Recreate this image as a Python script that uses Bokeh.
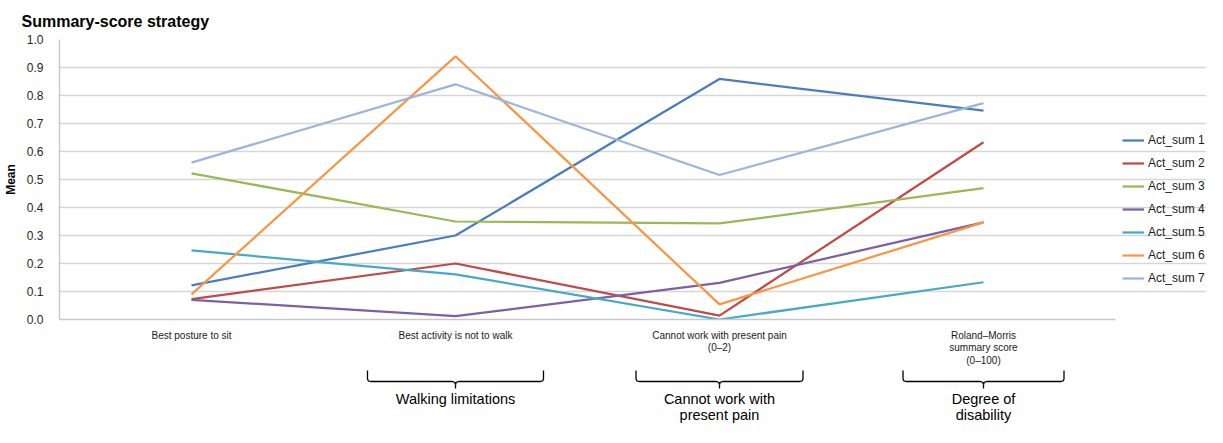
from bokeh.plotting import figure
from bokeh.models import Range1d, FixedTicker, Legend, LegendItem, NumeralTickFormatter
from bokeh.layouts import column
from bokeh.embed import file_html
from bokeh.resources import INLINE

# ---------------- data ----------------
categories = [
    "Best posture to sit",
    "Best activity is not to walk",
    "Cannot work with present pain\n(0–2)",
    "Roland–Morris\nsummary score\n(0–100)",
]
series_names = ["Act_sum 1", "Act_sum 2", "Act_sum 3", "Act_sum 4",
                "Act_sum 5", "Act_sum 6", "Act_sum 7"]
act_sum_1 = [0.122, 0.300, 0.859, 0.746]
act_sum_2 = [0.073, 0.200, 0.014, 0.633]
act_sum_3 = [0.522, 0.350, 0.343, 0.469]
act_sum_4 = [0.070, 0.012, 0.131, 0.347]
act_sum_5 = [0.247, 0.161, 0.000, 0.133]
act_sum_6 = [0.090, 0.940, 0.054, 0.347]
act_sum_7 = [0.560, 0.840, 0.516, 0.773]
y_ticks = [0.0, 0.1, 0.2, 0.3, 0.4, 0.5, 0.6, 0.7, 0.8, 0.9, 1.0]
group_labels = ["Walking limitations", "Cannot work with\npresent pain", "Degree of\ndisability"]
group_category_index = [1, 2, 3]

series_values = [act_sum_1, act_sum_2, act_sum_3, act_sum_4, act_sum_5, act_sum_6, act_sum_7]
colors = ["#4A7EBB", "#BE4B48", "#98B954", "#7D60A0", "#46AAC5", "#F79646", "#9DB5DA"]

FONT = "Liberation Sans"
W = 1206
LEFT = 59
CAT_PX = 264.0                      # pixels per category
FRAME_W = W - LEFT                  # frame runs to the right edge (legend sits inside it)
n = len(categories)
xr = Range1d(0, FRAME_W / CAT_PX)
xs = [i + 0.5 for i in range(n)]
H1 = 368
H2 = 58

# ---------------- main chart ----------------
p = figure(width=W, height=H1, x_range=xr, y_range=Range1d(0, 1.0),
           output_backend="svg", toolbar_location=None,
           min_border_left=LEFT, min_border_right=0,
           min_border_top=39, min_border_bottom=48,
           title="Summary-score strategy")
p.title.text_font = FONT
p.title.text_font_size = "16px"
p.title.text_font_style = "bold"
p.title.text_color = "#000000"
p.title.align = "left"
p.title.offset = -38
p.title.standoff = 20
p.outline_line_color = None
p.background_fill_color = "white"
p.border_fill_color = "white"

p.xgrid.grid_line_color = None
p.ygrid.grid_line_color = "#D6D6D6"
p.ygrid.grid_line_width = 1.4
p.ygrid.ticker = FixedTicker(ticks=y_ticks)
p.ygrid.bounds = (0, n)

p.yaxis.ticker = FixedTicker(ticks=y_ticks)
p.yaxis.formatter = NumeralTickFormatter(format="0.0")
p.yaxis.axis_label = "Mean"
p.yaxis.axis_label_text_font = FONT
p.yaxis.axis_label_text_font_size = "12px"
p.yaxis.axis_label_text_font_style = "bold"
p.yaxis.axis_label_text_color = "#000000"
p.yaxis.axis_label_standoff = 6
p.yaxis.major_label_text_font = FONT
p.yaxis.major_label_text_font_size = "12px"
p.yaxis.major_label_text_color = "#262626"
p.yaxis.major_label_standoff = 10
p.yaxis.major_tick_line_color = None
p.yaxis.minor_tick_line_color = None
p.yaxis.axis_line_color = "#C8C8C8"
p.yaxis.axis_line_width = 1.4

p.xaxis.ticker = FixedTicker(ticks=xs)
p.xaxis.bounds = (0, n)
p.xaxis.major_label_overrides = {x: c for x, c in zip(xs, categories)}
p.xaxis.major_label_text_font = FONT
p.xaxis.major_label_text_font_size = "10px"
p.xaxis.major_label_text_color = "#1a1a1a"
p.xaxis.major_label_text_line_height = 1.15
p.xaxis.major_label_standoff = 4
p.xaxis.major_tick_line_color = None
p.xaxis.minor_tick_line_color = None
p.xaxis.axis_line_color = "#C8C8C8"
p.xaxis.axis_line_width = 1.4

items = []
for name, vals, col in zip(series_names, series_values, colors):
    r = p.line(xs, vals, line_color=col, line_width=2.25)
    items.append(LegendItem(label=name, renderers=[r]))

legend = Legend(items=items, location=(1063, 31), glyph_width=22, glyph_height=20,
                label_height=20, label_standoff=4, spacing=3, padding=0, margin=0,
                border_line_color=None, background_fill_alpha=0,
                label_text_font=FONT, label_text_font_size="12px",
                label_text_color="#1a1a1a")
p.add_layout(legend, "center")

# ---------------- braces and group labels ----------------
q = figure(width=W, height=H2, x_range=xr, y_range=Range1d(H2, 0),
           output_backend="svg", toolbar_location=None,
           min_border_left=LEFT, min_border_right=0,
           min_border_top=0, min_border_bottom=0)
q.axis.visible = False
q.grid.visible = False
q.outline_line_color = None
q.border_fill_color = "white"
q.background_fill_color = "white"

px = 1.0 / CAT_PX
half_widths_px = [88, 83.5, 80.5]
bx, by, tx, ty = [], [], [], []
for gi, hw in zip(group_category_index, half_widths_px):
    c = gi + 0.5
    pts = [(-hw, 2), (-hw, 10.5), (-hw + 0.8, 12.3), (-hw + 3, 13), (-3, 13), (-0.8, 13.8), (0, 16),
           (0.8, 13.8), (3, 13), (hw - 3, 13), (hw - 0.8, 12.3), (hw, 10.5), (hw, 2)]
    bx.append([c + dx * px for dx, _ in pts])
    by.append([dy for _, dy in pts])
    tx.append([c, c])
    ty.append([16, 20])
q.multi_line(bx, by, line_color="#000000", line_width=1.3)
q.multi_line(tx, ty, line_color="#000000", line_width=1.3)
q.text([gi + 0.5 for gi in group_category_index], [22] * 3, text=group_labels,
       text_font={"value": FONT}, text_font_size={"value": "14.5px"},
       text_align="center", text_baseline="top", text_line_height=1.0,
       text_color="#000000")

layout = column(p, q, spacing=0)
open("out.html", "w").write(file_html(layout, INLINE))
